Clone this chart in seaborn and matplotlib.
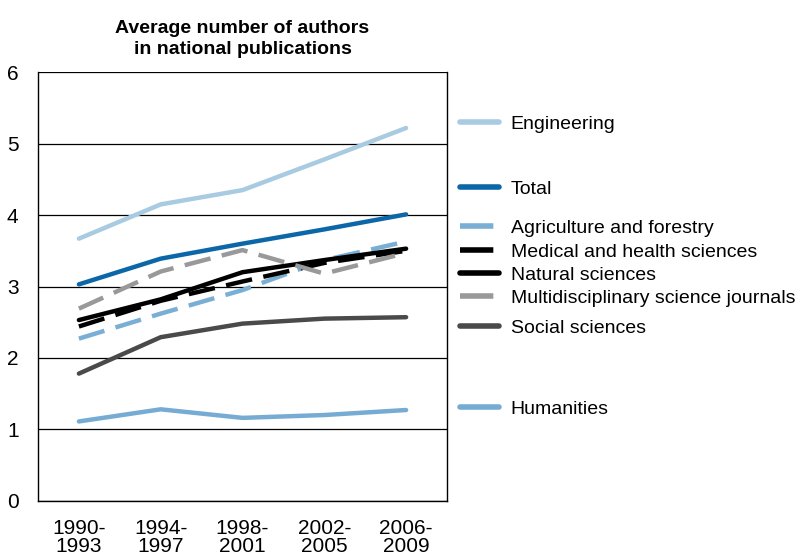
import matplotlib
matplotlib.use("Agg")
import matplotlib.pyplot as plt
from matplotlib.lines import Line2D
import pandas as pd
import seaborn as sns

# periods on the x axis
periods = ["1990-\n1993", "1994-\n1997", "1998-\n2001", "2002-\n2005", "2006-\n2009"]

# average number of authors per field
engineering = [3.67, 4.15, 4.35, 4.78, 5.22]
total = [3.03, 3.39, 3.60, 3.80, 4.01]
agriculture = [2.27, 2.62, 2.95, 3.37, 3.63]
medical = [2.44, 2.80, 3.07, 3.33, 3.50]
natural = [2.53, 2.82, 3.20, 3.37, 3.53]
multidisciplinary = [2.69, 3.21, 3.51, 3.18, 3.47]
social = [1.78, 2.29, 2.48, 2.55, 2.57]
humanities = [1.11, 1.28, 1.16, 1.20, 1.27]

fields = ["Engineering", "Total", "Agriculture and forestry",
          "Medical and health sciences", "Natural sciences",
          "Multidisciplinary science journals", "Social sciences", "Humanities"]
series = [engineering, total, agriculture, medical, natural,
          multidisciplinary, social, humanities]

colors = {
    "Engineering": "#a8cbe2",
    "Total": "#0b67a8",
    "Agriculture and forestry": "#7aafd5",
    "Medical and health sciences": "#000000",
    "Natural sciences": "#000000",
    "Multidisciplinary science journals": "#999999",
    "Social sciences": "#4a4a4a",
    "Humanities": "#76acd3",
}
dash = (6, 2.6)
dashes = {
    "Engineering": "",
    "Total": "",
    "Agriculture and forestry": dash,
    "Medical and health sciences": dash,
    "Natural sciences": "",
    "Multidisciplinary science journals": dash,
    "Social sciences": "",
    "Humanities": "",
}
# vertical pixel positions of the legend entries (from the top)
legend_y = [124, 189, 228, 252, 275, 298, 328, 409]

rows = []
for name, vals in zip(fields, series):
    for p, v in zip(periods, vals):
        rows.append({"period": p, "value": v, "field": name})
df = pd.DataFrame(rows)

sns.set_style("white")
plt.rcParams["font.family"] = ["Liberation Sans", "DejaVu Sans"]
plt.rcParams["text.color"] = "black"
plt.rcParams["xtick.color"] = "black"
plt.rcParams["ytick.color"] = "black"
plt.rcParams["axes.labelcolor"] = "black"

fig = plt.figure(figsize=(8.01, 5.60), dpi=100)
ax = fig.add_axes([38 / 801, 59.3 / 560, 409 / 801, 428.4 / 560])

sns.lineplot(data=df, x="period", y="value", hue="field", style="field",
             hue_order=fields, style_order=fields, palette=colors,
             dashes=dashes, linewidth=3.2, legend=False, ax=ax,
             sort=False)

ax.set_xlim(-0.5, 4.5)
ax.set_ylim(0, 6)
ax.set_yticks(range(0, 7))
ax.set_xlabel("")
ax.set_ylabel("")
ax.grid(axis="y", color="black", linewidth=0.9)
ax.set_axisbelow(True)
for s in ax.spines.values():
    s.set_visible(True)
    s.set_color("black")
    s.set_linewidth(1.0)
ax.spines["top"].set_visible(False)

ax.set_xticks([i + 0.5 for i in range(-1, 5)], minor=True)
ax.tick_params(axis="x", which="minor", length=6, direction="out",
               color="black", width=0.9)
ax.tick_params(axis="x", which="major", length=0, pad=13, labelsize=15)
ax.tick_params(axis="y", length=5, direction="out", color="black",
               width=0.9, pad=9, labelsize=15)
for lbl in ax.get_xticklabels():
    lbl.set_linespacing(0.95)

ax.set_title("Average number of authors\nin national publications",
             fontsize=14, fontweight="bold", pad=13, linespacing=1.3,
             color="black")

for name, y in zip(fields, legend_y):
    if dashes[name]:
        h = Line2D([], [], color=colors[name], linewidth=4, dashes=dashes[name])
    else:
        h = Line2D([], [], color=colors[name], linewidth=4)
    fig.legend([h], [name], loc="center left",
               bbox_to_anchor=(460 / 801, 1 - y / 560), frameon=False,
               fontsize=14, handlelength=2.0, handletextpad=0.6,
               borderpad=0, borderaxespad=0, labelcolor="black")

fig.savefig("out.png", dpi=100)
